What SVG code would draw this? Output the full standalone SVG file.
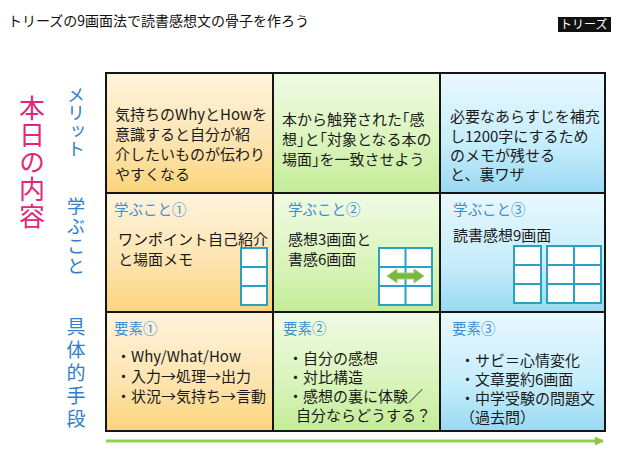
<svg xmlns="http://www.w3.org/2000/svg" width="638" height="452" viewBox="0 0 638 452">
  <defs>
    <linearGradient id="gOrange" x1="0" y1="0" x2="0" y2="1">
      <stop offset="0" stop-color="#fff3dd"/>
      <stop offset="0.6" stop-color="#fde4ae"/>
      <stop offset="1" stop-color="#fbd47b"/>
    </linearGradient>
    <linearGradient id="gGreen" x1="0" y1="0" x2="0" y2="1">
      <stop offset="0" stop-color="#f0fbe4"/>
      <stop offset="0.6" stop-color="#d9f4ba"/>
      <stop offset="1" stop-color="#c3ec98"/>
    </linearGradient>
    <linearGradient id="gBlue" x1="0" y1="0" x2="0" y2="1">
      <stop offset="0" stop-color="#e9f8fe"/>
      <stop offset="0.6" stop-color="#c5edfb"/>
      <stop offset="1" stop-color="#9ad9f2"/>
    </linearGradient>
    <marker id="arrowG" viewBox="0 0 10 10" refX="9" refY="5" markerWidth="3" markerHeight="3" orient="auto" markerUnits="strokeWidth">
      <path d="M0,0 L10,5 L0,10 z" fill="#8dc63f"/>
    </marker>
    <style>
      text { font-family: "Noto Sans CJK JP", "Noto Sans", sans-serif; }
      .cell { stroke: #151515; stroke-width: 2; }
      .body { font-size: 15px; fill: #1a1a1a; }
      .halt { font-feature-settings: "halt" 1; }
      .sub { font-size: 14.5px; fill: #3b8fd4; }
      .mini { fill: #ffffff; stroke: #2aa0c2; stroke-width: 2; }
      .vlab { writing-mode: vertical-rl; fill: #2f80cc; }
    </style>
  </defs>

  <rect x="0" y="0" width="638" height="452" fill="#ffffff"/>

  <g id="title">
    <text x="8" y="26" font-size="14" fill="#111">トリーズの9画面法で読書感想文の骨子を作ろう</text>
  </g>
  <g id="badge">
    <rect x="558" y="17" width="53" height="15" fill="#111"/>
    <text x="560" y="29" font-size="12" fill="#ffffff">トリーズ</text>
  </g>

  <g id="labels">
    <text x="32" y="95" font-size="26" letter-spacing="1" style="writing-mode: vertical-rl" fill="#e0277b">本日の内容</text>
    <text class="vlab" x="76" y="86" font-size="18">メリット</text>
    <text class="vlab" x="76" y="197" font-size="18" letter-spacing="2">学ぶこと</text>
    <text class="vlab" x="76" y="317" font-size="19" letter-spacing="4">具体的手段</text>
  </g>

  <g id="cell-r1c1">
    <rect class="cell" x="106" y="73" width="167" height="120" fill="url(#gOrange)"/>
    <text class="body" x="115" y="120">気持ちのWhyとHowを</text>
    <text class="body" x="115" y="140">意識すると自分が紹</text>
    <text class="body" x="115" y="160">介したいものが伝わり</text>
    <text class="body" x="115" y="180">やすくなる</text>
  </g>
  <g id="cell-r1c2">
    <rect class="cell" x="273" y="73" width="167" height="120" fill="url(#gGreen)"/>
    <text class="body halt" x="282" y="125">本から触発された「感</text>
    <text class="body halt" x="282" y="145">想」と「対象となる本の</text>
    <text class="body halt" x="282" y="165">場面」を一致させよう</text>
  </g>
  <g id="cell-r1c3">
    <rect class="cell" x="440" y="73" width="165" height="120" fill="url(#gBlue)"/>
    <text class="body" x="450" y="122">必要なあらすじを補充</text>
    <text class="body" x="450" y="142">し1200字にするため</text>
    <text class="body" x="450" y="161">のメモが残せる</text>
    <text class="body" x="450" y="180">と、裏ワザ</text>
  </g>

  <g id="cell-r2c1">
    <rect class="cell" x="106" y="193" width="167" height="119" fill="url(#gOrange)"/>
    <text class="sub" x="114" y="215">学ぶこと①</text>
    <text class="body" x="118" y="245">ワンポイント自己紹介</text>
    <text class="body" x="118" y="265">と場面メモ</text>
    <rect class="mini" x="241" y="248" width="26" height="19"/>
    <rect class="mini" x="241" y="267" width="26" height="19"/>
    <rect class="mini" x="241" y="286" width="26" height="19"/>
  </g>
  <g id="cell-r2c2">
    <rect class="cell" x="273" y="193" width="167" height="119" fill="url(#gGreen)"/>
    <text class="sub" x="288" y="215">学ぶこと②</text>
    <text class="body" x="288" y="245">感想3画面と</text>
    <text class="body" x="288" y="265">書感6画面</text>
    <rect class="mini" x="379" y="248" width="53" height="57"/>
    <line x1="405.5" y1="248" x2="405.5" y2="305" stroke="#2aa0c2" stroke-width="2"/>
    <line x1="379" y1="267" x2="432" y2="267" stroke="#2aa0c2" stroke-width="2"/>
    <line x1="379" y1="286" x2="432" y2="286" stroke="#2aa0c2" stroke-width="2"/>
    <polygon points="387,276 397,269 397,273 414,273 414,269 424,276 414,283 414,279 397,279 397,283" fill="#78b743" stroke="#a6d46e" stroke-width="1"/>
  </g>
  <g id="cell-r2c3">
    <rect class="cell" x="440" y="193" width="165" height="119" fill="url(#gBlue)"/>
    <text class="sub" x="453" y="215">学ぶこと③</text>
    <text class="body" x="453" y="241">読書感想9画面</text>
    <rect class="mini" x="514" y="246" width="27" height="19"/>
    <rect class="mini" x="514" y="265" width="27" height="19"/>
    <rect class="mini" x="514" y="284" width="27" height="19"/>
    <rect class="mini" x="547" y="246" width="54" height="57"/>
    <line x1="574" y1="246" x2="574" y2="303" stroke="#2aa0c2" stroke-width="2"/>
    <line x1="547" y1="265" x2="601" y2="265" stroke="#2aa0c2" stroke-width="2"/>
    <line x1="547" y1="284" x2="601" y2="284" stroke="#2aa0c2" stroke-width="2"/>
  </g>

  <g id="cell-r3c1">
    <rect class="cell" x="106" y="312" width="167" height="119" fill="url(#gOrange)"/>
    <text class="sub" x="114" y="334">要素①</text>
    <text class="body" x="116" y="362">・Why/What/How</text>
    <text class="body" x="116" y="382">・入力→処理→出力</text>
    <text class="body" x="116" y="402">・状況→気持ち→言動</text>
  </g>
  <g id="cell-r3c2">
    <rect class="cell" x="273" y="312" width="167" height="119" fill="url(#gGreen)"/>
    <text class="sub" x="283" y="334">要素②</text>
    <text class="body" x="288" y="364">・自分の感想</text>
    <text class="body" x="288" y="383">・対比構造</text>
    <text class="body" x="288" y="402">・感想の裏に体験／</text>
    <text class="body" x="296" y="421">自分ならどうする？</text>
  </g>
  <g id="cell-r3c3">
    <rect class="cell" x="440" y="312" width="165" height="119" fill="url(#gBlue)"/>
    <text class="sub" x="452" y="334">要素③</text>
    <text class="body" x="460" y="366">・サビ＝心情変化</text>
    <text class="body" x="460" y="385">・文章要約6画面</text>
    <text class="body" x="460" y="404">・中学受験の問題文</text>
    <text class="body" x="460" y="423">（過去問）</text>
  </g>

  <g id="connectors">
    <line x1="106" y1="441" x2="603" y2="441" stroke="#92d050" stroke-width="3" marker-end="url(#arrowG)"/>
  </g>
</svg>
